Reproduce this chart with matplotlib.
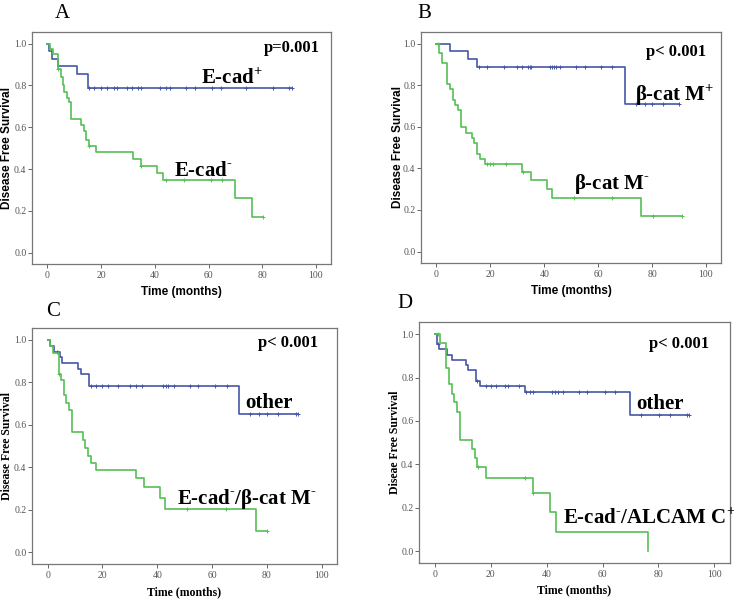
import numpy as np
import matplotlib
matplotlib.use('Agg')
import matplotlib.pyplot as plt

plt.rcParams['mathtext.fontset'] = 'custom'
plt.rcParams['mathtext.rm'] = 'Liberation Serif:bold'
plt.rcParams['mathtext.bf'] = 'Liberation Serif:bold'

BLUE = '#4657a8'
GREEN = '#55c055'

# ---------------- Panel A : E-cadherin ----------------
a_pos_t = [0, 0.6, 1.7, 4, 11, 15, 91]
a_pos_s = [1.0, 0.964, 0.929, 0.893, 0.857, 0.786, 0.786]
a_pos_cens = [15.5, 17.4, 19.9, 22.2, 24.8, 26, 29.7, 31.7, 33.9, 34.9, 41.9, 44,
              45.8, 51.8, 55, 61.2, 64.6, 74.1, 84, 90, 91]
a_neg_t = [0, 1.0, 2.2, 4.0, 5.0, 5.7, 6.3, 7.2, 8.0, 9.0, 12.7, 13.7, 14.5, 15.5,
           18.0, 32.0, 35.0, 40.8, 43.0, 70.0, 76.0, 80.4]
a_neg_s = [1.0, 0.975, 0.95, 0.88, 0.84, 0.80, 0.77, 0.74, 0.72, 0.64, 0.61, 0.58,
           0.54, 0.51, 0.48, 0.45, 0.415, 0.38, 0.345, 0.26, 0.17, 0.17]
a_neg_cens = [1, 4, 15.5, 35, 44, 51, 61, 65, 80.4]

# ---------------- Panel B : beta-catenin membrane ----------------
b_pos_t = [0, 5, 11.7, 15, 70, 90]
b_pos_s = [1.0, 0.963, 0.926, 0.889, 0.711, 0.711]
b_pos_cens = [15.8, 18.6, 25.1, 30, 31.8, 33.9, 34.7, 35.2, 42.1, 42.9, 43.5, 44.4,
              46, 51.9, 55, 60.9, 65.2, 74, 77.3, 80.1, 84.1, 90]
b_neg_t = [0, 0.8, 1.9, 3.8, 5.0, 6.0, 6.9, 8.0, 9.0, 11.1, 13.1, 14.0, 15.0, 16.0,
           17.9, 31.7, 35.0, 41.1, 43.0, 76.0, 91.0]
b_neg_s = [1.0, 0.955, 0.909, 0.805, 0.78, 0.73, 0.705, 0.68, 0.60, 0.57, 0.545,
           0.52, 0.47, 0.445, 0.42, 0.385, 0.345, 0.30, 0.257, 0.171, 0.171]
b_neg_cens = [0.7, 18.9, 19.8, 20.9, 26, 32, 51, 65.2, 80.2, 91]

# ---------------- Panel C : E-cad- / beta-cat M- ----------------
c_oth_t = [0, 1, 2.2, 4.4, 5.2, 11, 12, 15.2, 70, 91.5]
c_oth_s = [1.0, 0.97, 0.944, 0.917, 0.892, 0.865, 0.838, 0.784, 0.653, 0.653]
c_oth_cens = [3.5, 15.8, 17.7, 19.9, 22, 25.7, 30, 32.2, 34.6, 42.1, 43.1, 43.8, 46,
              51.9, 55, 61.1, 65.3, 74, 77.2, 80.1, 84.2, 90.5, 91.5]
c_grp_t = [0, 1, 2, 4, 4.9, 5.8, 6.8, 7.9, 8.9, 12.9, 13.8, 14.7, 15.8, 17.8, 32.2,
           35, 41, 43, 76.1, 80.1]
c_grp_s = [1.0, 0.97, 0.94, 0.84, 0.81, 0.74, 0.705, 0.67, 0.566, 0.53, 0.49, 0.455,
           0.42, 0.386, 0.35, 0.306, 0.255, 0.205, 0.10, 0.10]
c_grp_cens = [4, 51, 65.2, 80.1]

# ---------------- Panel D : E-cad- / ALCAM C+ ----------------
d_oth_t = [0, 0.8, 1.4, 4.4, 6.2, 11.2, 11.9, 14.8, 16, 32.1, 69.9, 91]
d_oth_s = [1.0, 0.955, 0.93, 0.905, 0.882, 0.857, 0.834, 0.785, 0.762, 0.733,
           0.628, 0.628]
d_oth_cens = [1.0, 15.1, 18.2, 20.1, 22, 25, 26.1, 30.2, 32.6, 34.2, 35, 42, 43.1, 44,
              45.8, 51.5, 54.4, 61, 64.5, 73.8, 80.1, 84.2, 90.1, 91]
d_grp_t = [0, 1.9, 4, 5.1, 6.0, 7.0, 8.0, 9.0, 13.2, 14.2, 15.1, 18.2, 35, 41.1,
           43.2, 76.2]
d_grp_s = [1.0, 0.96, 0.846, 0.768, 0.725, 0.685, 0.639, 0.512, 0.47, 0.43, 0.386,
           0.336, 0.269, 0.178, 0.089, 0.0]
d_grp_cens = [1.0, 15.5, 32.1, 35]

PLUS = r'$^{+}$'
MINUS = r'$^{\text{-}}$'

panels = [
    dict(rect=[0.0436, 0.5607, 0.4074, 0.386], letter='A', letter_xy=(62, 14),
         curves=[(a_pos_t, a_pos_s, a_pos_cens, BLUE), (a_neg_t, a_neg_s, a_neg_cens, GREEN)],
         ptext='p=0.001', pxy=(80.5, 0.98),
         labels=[('E-cad' + PLUS, 57.1, 0.835), ('E-cad' + MINUS, 47.1, 0.392)],
         ylabel='Disease Free Survival', lab_font='Liberation Sans', ylab_x=-0.082, xlab_y=-0.12),
    dict(rect=[0.5736, 0.5624, 0.4087, 0.3844], letter='B', letter_xy=(424, 14),
         curves=[(b_pos_t, b_pos_s, b_pos_cens, BLUE), (b_neg_t, b_neg_s, b_neg_cens, GREEN)],
         ptext='p< 0.001', pxy=(77.9, 0.962),
         labels=[('β-cat M' + PLUS, 73.6, 0.754), ('β-cat M' + MINUS, 51.2, 0.327)],
         ylabel='Disease Free Survival', lab_font='Liberation Sans', ylab_x=-0.077, xlab_y=-0.121),
    dict(rect=[0.0436, 0.0616, 0.4155, 0.3927], letter='C', letter_xy=(53, 312),
         curves=[(c_oth_t, c_oth_s, c_oth_cens, BLUE), (c_grp_t, c_grp_s, c_grp_cens, GREEN)],
         ptext='p< 0.001', pxy=(76.7, 0.986),
         labels=[('other', 72.2, 0.705), ('E-cad' + MINUS + '/β-cat M' + MINUS, 47.3, 0.252)],
         ylabel='Disease Free Survival', lab_font='Liberation Serif', ylab_x=-0.082, xlab_y=-0.119),
    dict(rect=[0.5708, 0.0632, 0.4237, 0.401], letter='D', letter_xy=(405, 303),
         curves=[(d_oth_t, d_oth_s, d_oth_cens, BLUE), (d_grp_t, d_grp_s, d_grp_cens, GREEN)],
         ptext='p< 0.001', pxy=(76.8, 0.955),
         labels=[('other', 72.0, 0.679), ('E-cad' + MINUS + '/ALCAM C' + PLUS, 45.8, 0.149)],
         ylabel='Diseae Free Survival', lab_font='Liberation Serif', ylab_x=-0.077, xlab_y=-0.112),
]

fig = plt.figure(figsize=(7.34, 6.01), dpi=100)

for p in panels:
    ax = fig.add_axes(p['rect'])
    for t, s, cens, col in p['curves']:
        ax.step(t, s, where='post', color=col, lw=1.2)
        # censored marks sit on the curve
        idx = np.searchsorted(t, cens, side='right') - 1
        ax.plot(cens, np.array(s)[idx], ls='none', marker='+', ms=3.5, mew=0.7, color=col)

    ax.set_xlim(-5.7, 105.6)
    ax.set_ylim(-0.055, 1.056)
    ax.set_xticks(np.arange(0, 101, 20))
    ax.set_yticks(np.arange(0, 1.01, 0.2))
    ax.set_yticklabels(['%.1f' % v for v in np.arange(0, 1.01, 0.2)])
    ax.tick_params(direction='out', length=2.8, width=0.7, color='#666666',
                   labelsize=7, labelcolor='#555555')
    ax.tick_params(axis='y', pad=1.2)
    ax.tick_params(axis='x', pad=2.5)
    for lab in ax.get_xticklabels() + ax.get_yticklabels():
        lab.set_family('Liberation Serif')
    for sp in ax.spines.values():
        sp.set_color('#777777')
        sp.set_linewidth(0.9)

    ax.set_xlabel('Time (months)', family=p['lab_font'], fontweight='bold', fontsize=8.5,
                  va='center')
    ax.set_ylabel(p['ylabel'], family=p['lab_font'], fontweight='bold', fontsize=8.5,
                  va='center')
    ax.xaxis.set_label_coords(0.5, p['xlab_y'])
    ax.yaxis.set_label_coords(p['ylab_x'], 0.5)

    ax.text(p['pxy'][0], p['pxy'][1], p['ptext'], family='Liberation Serif',
            fontweight='bold', fontsize=12, va='center')
    for txt, x, y in p['labels']:
        ax.text(x, y, txt, family='Liberation Serif', fontweight='bold', fontsize=15,
                va='center')

    fig.text(p['letter_xy'][0] / 734, 1 - p['letter_xy'][1] / 601, p['letter'],
             family='Liberation Serif', fontsize=15, ha='center', va='center')

fig.savefig('out.png', dpi=100)
